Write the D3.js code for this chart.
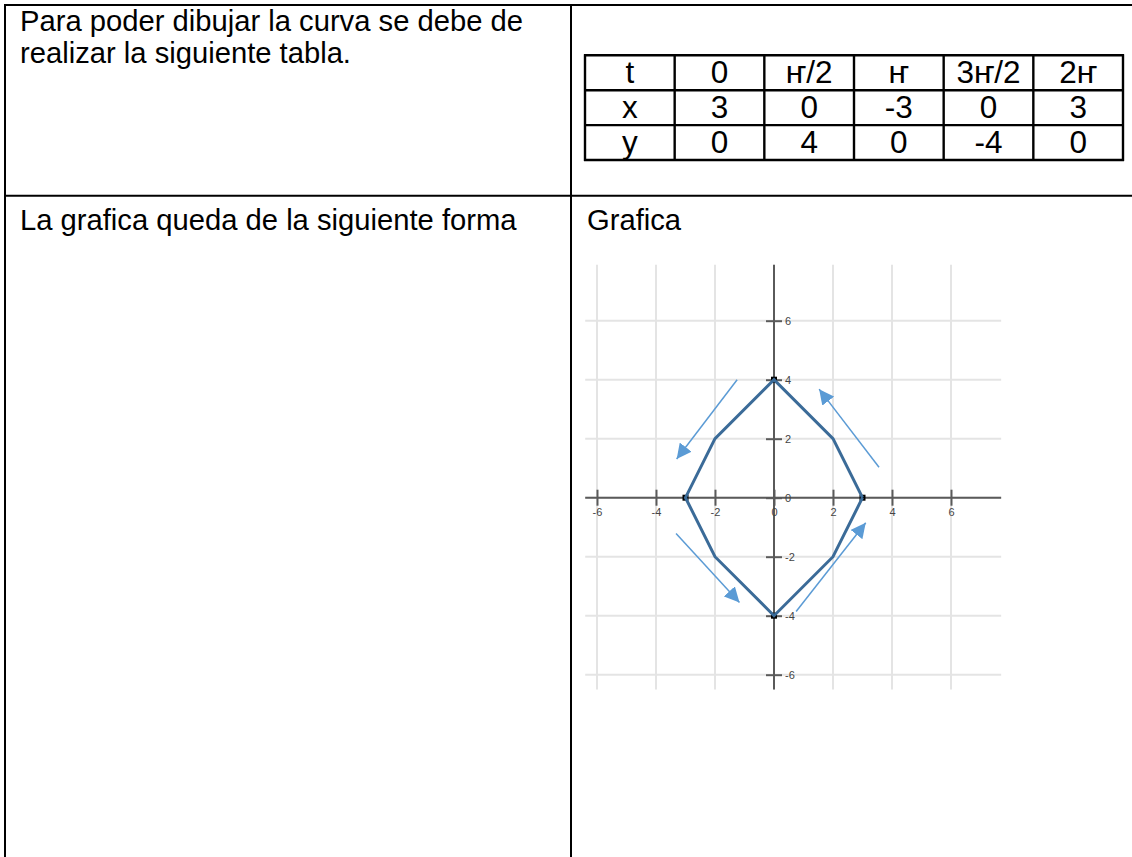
<!DOCTYPE html>
<html>
<head>
<meta charset="utf-8">
<script src="https://cdn.jsdelivr.net/npm/d3@7"></script>
<style>
  html, body { margin: 0; padding: 0; background: #fff; }
  svg { display: block; }
  text { font-family: "Liberation Sans", Arial, sans-serif; }
</style>
</head>
<body>
<svg id="chart" width="1132" height="857"></svg>
<script>
// ---------- data ----------
const rowLabels = ["t", "x", "y"];
const tLabels = ["0", "ҥ/2", "ҥ", "3ҥ/2", "2ҥ"];
const xValues = [3, 0, -3, 0, 3];
const yValues = [0, 4, 0, -4, 0];

const curveX = [3, 2, 0, -2, -3, -2, 0, 2, 3];
const curveY = [0, 2, 4, 2, 0, -2, -4, -2, 0];

const markerX = [3, 0, -3, 0];
const markerY = [0, 4, 0, -4];

const gridTicks = [-6, -4, -2, 0, 2, 4, 6];
const tickLabels = ["-6", "-4", "-2", "0", "2", "4", "6"];

// direction arrows (data units): start -> end (tip)
const arrowX1 = [-1.25, 3.56, -3.32, 0.75];
const arrowY1 = [4.00, 1.03, -1.21, -3.86];
const arrowX2 = [-3.30, 1.53, -1.17, 3.11];
const arrowY2 = [1.31, 3.68, -3.55, -0.85];

const textTopLeft = ["Para poder dibujar la curva se debe de", "realizar la siguiente tabla."];
const textBottomLeft = "La grafica queda de la siguiente forma";
const textBottomRight = "Grafica";

// ---------- drawing ----------
const svg = d3.select("#chart");
svg.append("rect").attr("width", 1132).attr("height", 857).attr("fill", "#fff");

// outer document table
const border = svg.append("g").attr("stroke", "#000").attr("stroke-width", 2);
border.append("line").attr("x1", 4).attr("x2", 1132).attr("y1", 5).attr("y2", 5);
border.append("line").attr("x1", 5).attr("x2", 5).attr("y1", 4).attr("y2", 857);
border.append("line").attr("x1", 571).attr("x2", 571).attr("y1", 4).attr("y2", 857);
border.append("line").attr("x1", 4).attr("x2", 1132).attr("y1", 195.7).attr("y2", 195.7);

// paragraph texts
const para = svg.append("g").attr("font-size", 29.2).attr("fill", "#000");
textTopLeft.forEach((t, i) => {
  para.append("text").attr("x", 20).attr("y", 31 + i * 31.5).text(t);
});
para.append("text").attr("x", 20).attr("y", 230).text(textBottomLeft);
para.append("text").attr("x", 587).attr("y", 230).text(textBottomRight);

// value table
const cols = ["label"].concat(tLabels.map((d, i) => i));
const colScale = d3.scaleBand().domain(d3.range(cols.length)).range([585, 1123]);
const rowScale = d3.scaleBand().domain(d3.range(rowLabels.length)).range([55.3, 160]);
const rows = [
  [rowLabels[0]].concat(tLabels),
  [rowLabels[1]].concat(xValues.map(String)),
  [rowLabels[2]].concat(yValues.map(String))
];
const tbl = svg.append("g");
const tblLines = tbl.append("g").attr("stroke", "#000").attr("stroke-width", 2.4);
d3.range(rowLabels.length + 1).forEach(r => {
  const yy = r < rowLabels.length ? rowScale(r) : rowScale.range()[1];
  tblLines.append("line").attr("x1", 584).attr("x2", 1124).attr("y1", yy).attr("y2", yy);
});
d3.range(cols.length + 1).forEach(c => {
  const xx = c < cols.length ? colScale(c) : colScale.range()[1];
  tblLines.append("line").attr("x1", xx).attr("x2", xx).attr("y1", 54.3).attr("y2", 161);
});
rows.forEach((row, r) => {
  row.forEach((cell, c) => {
    tbl.append("text")
      .attr("x", colScale(c) + colScale.bandwidth() / 2)
      .attr("y", rowScale(r) + 27.5)
      .attr("text-anchor", "middle")
      .attr("font-size", 31.5)
      .text(cell);
  });
});

// ---------- graph ----------
const x = d3.scaleLinear().domain([-6.4, 7.7]).range([774 - 6.4 * 29.5, 774 + 7.7 * 29.5]);
const y = d3.scaleLinear().domain([-6.5, 7.9]).range([497.7 + 6.5 * 29.5, 497.7 - 7.9 * 29.5]);

const g = svg.append("g");

// grid
const grid = g.append("g").attr("stroke", "#e4e4e4").attr("stroke-width", 2);
gridTicks.forEach(v => {
  grid.append("line").attr("x1", x(v)).attr("x2", x(v)).attr("y1", y.range()[1]).attr("y2", y.range()[0]);
  grid.append("line").attr("y1", y(v)).attr("y2", y(v)).attr("x1", x.range()[0]).attr("x2", x.range()[1]);
});

// axes lines
g.append("line").attr("x1", x.range()[0]).attr("x2", x.range()[1]).attr("y1", y(0)).attr("y2", y(0))
  .attr("stroke", "#5a5a5a").attr("stroke-width", 2);
g.append("line").attr("x1", x(0)).attr("x2", x(0)).attr("y1", y.range()[1]).attr("y2", y.range()[0])
  .attr("stroke", "#5a5a5a").attr("stroke-width", 2);

// ticks as crosses via d3 axes
const fmt = d => tickLabels[gridTicks.indexOf(d)];
const xAxis = d3.axisBottom(x).tickValues(gridTicks).tickFormat(fmt).tickSizeInner(16).tickSizeOuter(0).tickPadding(3);
const yAxis = d3.axisRight(y).tickValues(gridTicks).tickFormat(fmt).tickSizeInner(16).tickSizeOuter(0).tickPadding(3);

const gx = g.append("g").attr("transform", `translate(0,${y(0) - 8})`).call(xAxis);
const gy = g.append("g").attr("transform", `translate(${x(0) - 8},0)`).call(yAxis);
[gx, gy].forEach(a => {
  a.select(".domain").remove();
  a.selectAll(".tick line").attr("stroke", "#5a5a5a").attr("stroke-width", 2);
  a.selectAll(".tick text").attr("fill", "#444").attr("font-size", 11)
    .attr("font-family", "'DejaVu Sans', sans-serif");
});

// vertex markers
g.append("g").selectAll("rect").data(markerX).join("rect")
  .attr("x", (d) => x(d) - 3)
  .attr("y", (d, i) => y(markerY[i]) - 3)
  .attr("width", 6).attr("height", 6).attr("fill", "#000");

// curve
const pts = curveX.map((d, i) => [x(d), y(curveY[i])]);
g.append("path").attr("d", d3.line()(pts))
  .attr("fill", "none").attr("stroke", "#3b6b98").attr("stroke-width", 3)
  .attr("stroke-linejoin", "miter");

// arrows
const defs = svg.append("defs");
defs.append("marker").attr("id", "ah")
  .attr("viewBox", "0 0 10 10").attr("refX", 10).attr("refY", 5)
  .attr("markerUnits", "userSpaceOnUse")
  .attr("markerWidth", 15).attr("markerHeight", 15)
  .attr("orient", "auto")
  .append("path").attr("d", "M0,0 L10,5 L0,10 Z").attr("fill", "#5b9bd5");

arrowX1.forEach((d, i) => {
  g.append("line")
    .attr("x1", x(d)).attr("y1", y(arrowY1[i]))
    .attr("x2", x(arrowX2[i])).attr("y2", y(arrowY2[i]))
    .attr("stroke", "#5b9bd5").attr("stroke-width", 1.5)
    .attr("marker-end", "url(#ah)");
});
</script>
</body>
</html>
